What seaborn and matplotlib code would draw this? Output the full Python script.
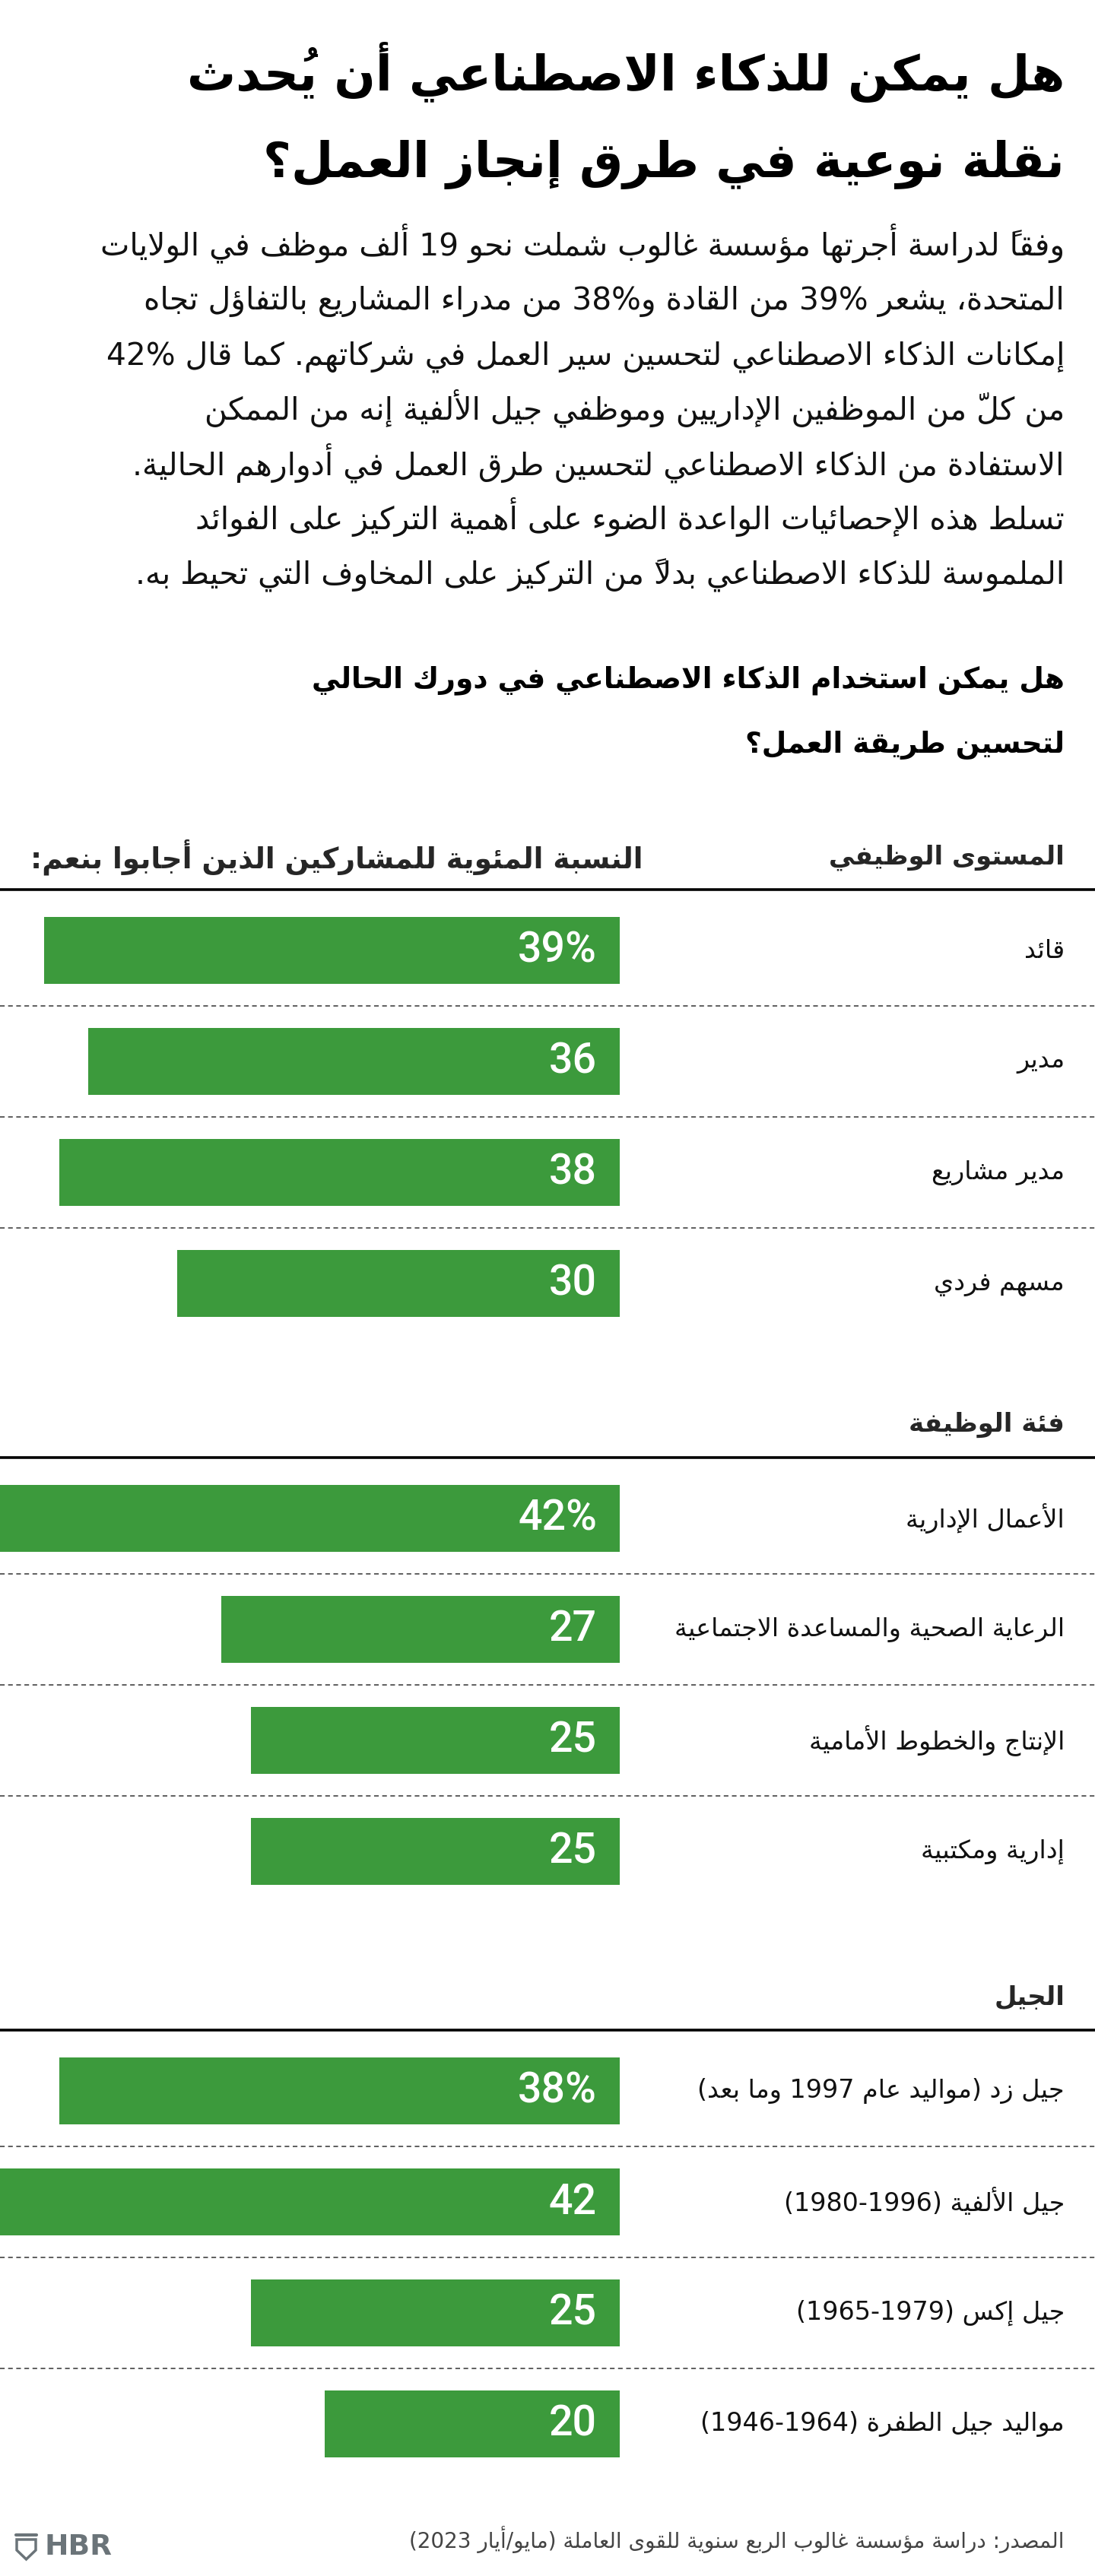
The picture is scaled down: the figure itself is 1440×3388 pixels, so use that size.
import re
import unicodedata

import pandas as pd
import seaborn as sns
import matplotlib.pyplot as plt
from matplotlib.patches import Polygon
from matplotlib.transforms import blended_transform_factory

# ---------------- data ----------------
title_lines = ["هل يمكن للذكاء الاصطناعي أن يُحدث",
               "نقلة نوعية في طرق إنجاز العمل؟"]
intro_lines = [
    "وفقاً لدراسة أجرتها مؤسسة غالوب شملت نحو 19 ألف موظف في الولايات",
    "المتحدة، يشعر 39% من القادة و38% من مدراء المشاريع بالتفاؤل تجاه",
    "إمكانات الذكاء الاصطناعي لتحسين سير العمل في شركاتهم. كما قال 42%",
    "من كلّ من الموظفين الإداريين وموظفي جيل الألفية إنه من الممكن",
    "الاستفادة من الذكاء الاصطناعي لتحسين طرق العمل في أدوارهم الحالية.",
    "تسلط هذه الإحصائيات الواعدة الضوء على أهمية التركيز على الفوائد",
    "الملموسة للذكاء الاصطناعي بدلاً من التركيز على المخاوف التي تحيط به.",
]
question_lines = ["هل يمكن استخدام الذكاء الاصطناعي في دورك الحالي",
                  "لتحسين طريقة العمل؟"]
value_header = "النسبة المئوية للمشاركين الذين أجابوا بنعم:"

level_title = "المستوى الوظيفي"
level_labels = ["قائد", "مدير", "مدير مشاريع", "مسهم فردي"]
level_values = [39, 36, 38, 30]

category_title = "فئة الوظيفة"
category_labels = ["الأعمال الإدارية", "الرعاية الصحية والمساعدة الاجتماعية",
                   "الإنتاج والخطوط الأمامية", "إدارية ومكتبية"]
category_values = [42, 27, 25, 25]

generation_title = "الجيل"
generation_labels = ["جيل زد (مواليد عام 1997 وما بعد)", "جيل الألفية (1980-1996)",
                     "جيل إكس (1965-1979)", "مواليد جيل الطفرة (1946-1964)"]
generation_values = [38, 42, 25, 20]

source = "المصدر: دراسة مؤسسة غالوب الربع سنوية للقوى العاملة (مايو/أيار 2023)"

# ------------- arabic shaping (matplotlib has no text shaping / bidi) -------------
MARKS = "".join(chr(c) for c in range(0x064B, 0x0653)) + "\u0670"
RIGHT = {chr(b): p for b, p in [(0x0622, 0xFE81), (0x0623, 0xFE83), (0x0624, 0xFE85),
                                (0x0625, 0xFE87), (0x0627, 0xFE8D), (0x0629, 0xFE93),
                                (0x062F, 0xFEA9), (0x0630, 0xFEAB), (0x0631, 0xFEAD),
                                (0x0632, 0xFEAF), (0x0648, 0xFEED), (0x0649, 0xFEEF)]}
DUAL = {chr(b): p for b, p in [(0x0626, 0xFE89), (0x0628, 0xFE8F), (0x062A, 0xFE95),
                               (0x062B, 0xFE99), (0x062C, 0xFE9D), (0x062D, 0xFEA1),
                               (0x062E, 0xFEA5), (0x0633, 0xFEB1), (0x0634, 0xFEB5),
                               (0x0635, 0xFEB9), (0x0636, 0xFEBD), (0x0637, 0xFEC1),
                               (0x0638, 0xFEC5), (0x0639, 0xFEC9), (0x063A, 0xFECD),
                               (0x0641, 0xFED1), (0x0642, 0xFED5), (0x0643, 0xFED9),
                               (0x0644, 0xFEDD), (0x0645, 0xFEE1), (0x0646, 0xFEE5),
                               (0x0647, 0xFEE9), (0x064A, 0xFEF1)]}
LAM_ALEF = {"\u0622": 0xFEF5, "\u0623": 0xFEF7, "\u0625": 0xFEF9, "\u0627": 0xFEFB}
MIRROR = {"(": ")", ")": "("}
LTR_RE = re.compile(r"[0-9A-Za-z]+(?:[-/.,:][0-9A-Za-z]+)*%?")


def shape(text):
    clusters = []
    for ch in unicodedata.normalize("NFC", text):
        if ch in MARKS and clusters:
            clusters[-1][1] += ch
        else:
            clusters.append([ch, ""])
    items = []
    i = 0
    while i < len(clusters):
        b, m = clusters[i]
        if b == "\u0644" and i + 1 < len(clusters) and clusters[i + 1][0] in LAM_ALEF:
            items.append(("LA", LAM_ALEF[clusters[i + 1][0]], m + clusters[i + 1][1]))
            i += 2
        else:
            items.append((b, None, m))
            i += 1
    out = []
    for k, (b, lig, m) in enumerate(items):
        prev_j = k > 0 and items[k - 1][0] in DUAL and (b in DUAL or b in RIGHT or b == "LA")
        nxt = items[k + 1][0] if k + 1 < len(items) else None
        next_j = b in DUAL and nxt is not None and (nxt in DUAL or nxt in RIGHT or nxt == "LA")
        if b == "LA":
            g = chr(lig + prev_j)
        elif b in DUAL:
            g = chr(DUAL[b] + (3 if prev_j and next_j else 2 if next_j else 1 if prev_j else 0))
        elif b in RIGHT:
            g = chr(RIGHT[b] + prev_j)
        else:
            g = b
        out.append(g + m)
    return "".join(out)


def rtl(seg):
    # reverse clusters; the zero-width mark goes first so it sits on its own letter
    cl = re.findall("(.)([" + MARKS + "]*)", seg, flags=re.S)
    return "".join(m + MIRROR.get(b, b) for b, m in reversed(cl))


def ar(text):
    s = shape(text)
    parts, pos = [], 0
    for m in LTR_RE.finditer(s):
        parts.append(rtl(s[pos:m.start()]))
        parts.append(m.group())
        pos = m.end()
    parts.append(rtl(s[pos:]))
    return "".join(reversed(parts))


# ---------------- figure ----------------
W, H = 1440, 3388
GREEN = "#3c9a3c"
PX_PER_PCT = 815 / 42
UNIT = 146  # px between bar rows
NUM_FONT = ["Liberation Sans Narrow", "Roboto", "DejaVu Sans"]

sns.set_style("white")
plt.rcParams["font.family"] = ["DejaVu Sans"]
fig = plt.figure(figsize=(W / 100, H / 100), dpi=100)


def fx(px):
    return px / W


def fy(px):
    return 1 - px / H


for k, line in enumerate(title_lines):
    fig.text(fx(1400), fy(119 + 114 * k), ar(line), ha="right", va="baseline",
             fontsize=46, fontweight="bold", color="black")

for k, line in enumerate(intro_lines):
    fig.text(fx(1400), fy(335 + 72.3 * k), ar(line), ha="right", va="baseline",
             fontsize=29.3, color="#111111")

for k, line in enumerate(question_lines):
    fig.text(fx(1400), fy(904 + 86 * k), ar(line), ha="right", va="baseline",
             fontsize=27, fontweight="bold", color="black")

sections = [
    (level_title, level_labels, level_values, 1250),
    (category_title, category_labels, category_values, 1997),
    (generation_title, generation_labels, generation_values, 2750),
]
TOP, BOTTOM = -1.3, 3.5
for s_idx, (title, labels, values, c1) in enumerate(sections):
    top_px = c1 + TOP * UNIT
    bottom_px = c1 + BOTTOM * UNIT
    ax = fig.add_axes([0, 1 - bottom_px / H, 1, (bottom_px - top_px) / H])
    df = pd.DataFrame({"label": labels, "value": values})
    sns.barplot(data=df, x="value", y="label", orient="h", color=GREEN,
                saturation=1, width=0.6, linewidth=0, ax=ax)
    ax.set_xlim(42, 42 - W / PX_PER_PCT)
    ax.set_ylim(BOTTOM, TOP)
    ax.set_axis_off()

    trans = blended_transform_factory(ax.transAxes, ax.transData)
    ax.text(1400 / W, -0.84, ar(title), transform=trans, ha="right", va="center",
            fontsize=24.5, fontweight="bold")
    if s_idx == 0:
        ax.text(845 / W, -0.84, ar(value_header), transform=trans, ha="right",
                va="center", fontsize=27, fontweight="bold")
    ax.axhline(-0.55, color="black", lw=2.6)
    for i in range(len(labels) - 1):
        ax.axhline(i + 0.5, color="#333333", lw=1.1, ls=(0, (4, 3)))

    for i, (lab, v) in enumerate(zip(labels, values)):
        ax.text(1400 / W, i, ar(lab), transform=trans, ha="right", va="center",
                fontsize=24, color="#111111")
        txt = f"{v}%" if i == 0 else str(v)
        ax.text(1.55, i, txt, ha="right", va="center", color="white",
                fontsize=40, fontweight="medium", family=NUM_FONT)

# footer
fig.text(fx(1400), fy(3340), ar(source), ha="right", va="center", fontsize=20, color="#444444")
fig.text(fx(58), fy(3350), "HBR", ha="left", va="center", fontsize=27,
         fontweight="bold", color="#6b7479")
shield = Polygon([(fx(22), fy(3340)), (fx(47), fy(3340)), (fx(47), fy(3354)),
                  (fx(34.5), fy(3366)), (fx(22), fy(3354))], closed=True,
                 transform=fig.transFigure, facecolor="none", edgecolor="#6b7479", lw=2.5)
fig.add_artist(shield)
fig.add_artist(plt.Line2D([fx(21), fx(48)], [fy(3334), fy(3334)],
                          transform=fig.transFigure, color="#6b7479", lw=3))

fig.savefig("out.png", dpi=100)
